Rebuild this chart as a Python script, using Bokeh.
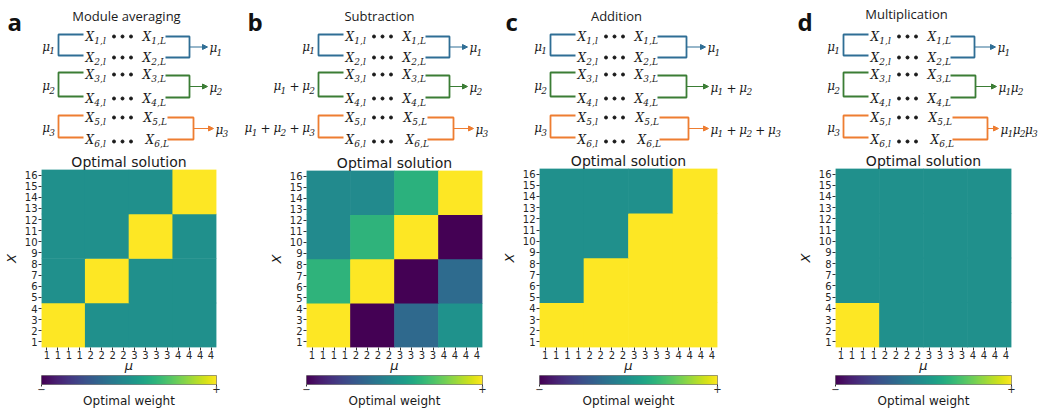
import numpy as np
from bokeh.plotting import figure
from bokeh.layouts import column, row
from bokeh.models import Range1d, FixedTicker, ColumnDataSource, LinearColorMapper, Arrow, NormalHead
from bokeh.palettes import Viridis256
from bokeh.transform import linear_cmap
from bokeh.core.properties import value
from bokeh.embed import file_html
from bokeh.resources import INLINE

# ---------------- data ----------------
panel_letters = ["a", "b", "c", "d"]
panel_titles = ["Module averaging", "Subtraction", "Addition", "Multiplication"]
heatmap_title = "Optimal solution"
colorbar_label = "Optimal weight"
colorbar_ticks = [-1, 1]
colorbar_tick_labels = ["\u2212", "+"]
weight_min, weight_max = -1, 1

# block weights: rows = X blocks (X1-4, X5-8, X9-12, X13-16), cols = mu groups 1..4
weights_a = [[1, 0, 0, 0], [0, 1, 0, 0], [0, 0, 1, 0], [0, 0, 0, 1]]
weights_b = [[1, -1, -0.32, 0.02], [0.3, 1, -1, -0.3], [-0.04, 0.3, 1, -1], [-0.04, -0.04, 0.28, 1]]
weights_c = [[1, 1, 1, 1], [0, 1, 1, 1], [0, 0, 1, 1], [0, 0, 0, 1]]
weights_d = [[1, 0, 0, 0], [0, 0, 0, 0], [0, 0, 0, 0], [0, 0, 0, 0]]
all_weights = [weights_a, weights_b, weights_c, weights_d]

x_tick_labels = ["1"] * 4 + ["2"] * 4 + ["3"] * 4 + ["4"] * 4
y_tick_values = list(range(1, 17))
x_axis_label = "\u03bc"
y_axis_label = "X"

left_inputs = [
    [["μ1"], ["μ2"], ["μ3"]],
    [["μ1"], ["μ1", "+", "μ2"], ["μ1", "+", "μ2", "+", "μ3"]],
    [["μ1"], ["μ2"], ["μ3"]],
    [["μ1"], ["μ2"], ["μ3"]],
]
right_outputs = [
    [["μ1"], ["μ2"], ["μ3"]],
    [["μ1"], ["μ2"], ["μ3"]],
    [["μ1"], ["μ1", "+", "μ2"], ["μ1", "+", "μ2", "+", "μ3"]],
    [["μ1"], ["μ1", "μ2"], ["μ1", "μ2", "μ3"]],
]
x_units = ["1", "2", "3", "4", "5", "6"]

# ---------------- styles / positions ----------------
MOD_COLORS = ["#2f6e95", "#3b7d35", "#ee7d31"]
TXT = "#1a1a1a"
DX = [0, 260, 492, 785]
LT = [34, 72, 115]
LBt = [55, 96, 137]
RT = [36, 75, 117]
RBt = [57, 97, 139]
RV = [[189, 189, 193], [189, 189, 193], [194, 194, 196], [189, 190, 202]]
TIP = [[207, 207, 213], [207, 207, 213], [213, 216, 216], [210, 211, 213]]
XR_START = [142, 142, 142, 142, 143, 145]
LET_X = [7, 247, 505, 797]
TITLE_X = [126, 379, 616, 906]
TITLE_Y = [15, 15, 15, 13]
MU_W, SUB_W, PLUS_W, X_W, JUX_W = 7.6, 5.7, 15.5, 8.8, 4.6

diag = figure(width=1038, height=150, x_range=Range1d(0, 1038), y_range=Range1d(150, 0),
              toolbar_location=None, output_backend="svg", min_border=0,
              x_axis_type=None, y_axis_type=None)
diag.outline_line_color = None
diag.background_fill_color = "white"

main_t = dict(x=[], y=[], text=[])
sub_t = dict(x=[], y=[], text=[])
plus_t = dict(x=[], y=[], text=[])


def add_math(tokens, x, y, anchor="left"):
    widths = []
    for n, t in enumerate(tokens):
        if t == "+":
            widths.append(PLUS_W)
        elif n + 1 < len(tokens) and tokens[n + 1] != "+":
            widths.append(MU_W + JUX_W)
        else:
            widths.append(MU_W + SUB_W)
    cx = x - sum(widths) if anchor == "right" else x
    for t, w in zip(tokens, widths):
        if t == "+":
            plus_t["x"].append(cx + w / 2); plus_t["y"].append(y); plus_t["text"].append("+")
        else:
            main_t["x"].append(cx); main_t["y"].append(y); main_t["text"].append(t[0])
            sub_t["x"].append(cx + MU_W - 0.5); sub_t["y"].append(y + 4); sub_t["text"].append(t[1:])
        cx += w


line_xs, line_ys, line_cols = [], [], []
dots_x, dots_y = [], []
for k in range(4):
    dx = DX[k]
    for r in range(3):
        c = MOD_COLORS[r]
        # left bracket
        line_xs.append([83 + dx, 58 + dx, 58 + dx, 83 + dx])
        line_ys.append([LT[r], LT[r], LBt[r], LBt[r]])
        line_cols.append(c)
        # right bracket
        xs0 = 165 + dx + (2 if r == 2 else 0)
        line_xs.append([xs0, RV[k][r] + dx, RV[k][r] + dx, xs0])
        line_ys.append([RT[r], RT[r], RBt[r], RBt[r]])
        line_cols.append(c)
        ym = (RT[r] + RBt[r]) / 2
        diag.add_layout(Arrow(end=NormalHead(size=5, line_color=c, fill_color=c, line_width=1),
                              x_start=RV[k][r] + dx, y_start=ym, x_end=TIP[k][r] + dx, y_end=ym,
                              line_color=c, line_width=1.2))
        add_math(left_inputs[k][r], 55 + dx, (LT[r] + LBt[r]) / 2 + 1.5, "right")
        add_math(right_outputs[k][r], TIP[k][r] + dx + 2, ym + 1, "left")
        for q, yl in enumerate([LT[r], LBt[r]]):
            idx = 2 * r + q
            unit = x_units[idx]
            main_t["x"].append(85 + dx); main_t["y"].append(yl + 2); main_t["text"].append("X")
            sub_t["x"].append(85 + dx + X_W); sub_t["y"].append(yl + 6); sub_t["text"].append(unit + ",l")
            xr = XR_START[idx] + dx
            main_t["x"].append(xr); main_t["y"].append(yl + 2); main_t["text"].append("X")
            sub_t["x"].append(xr + X_W); sub_t["y"].append(yl + 6); sub_t["text"].append(unit + ",L")
            for ddx in (113.5, 122, 130.5):
                dots_x.append(ddx + dx); dots_y.append(yl + (4 if idx == 5 else 2))

diag.multi_line(xs=line_xs, ys=line_ys, line_color=line_cols, line_width=1.8)
diag.scatter(x=dots_x, y=dots_y, size=3, color="#1a1a1a")
diag.text(x="x", y="y", text="text", source=ColumnDataSource(main_t), text_font=value("DejaVu Serif"),
          text_font_style="italic", text_font_size="12px", text_align="left", text_baseline="middle",
          text_color=TXT)
diag.text(x="x", y="y", text="text", source=ColumnDataSource(sub_t), text_font=value("DejaVu Serif"),
          text_font_style="italic", text_font_size="9px", text_align="left", text_baseline="middle",
          text_color=TXT)
diag.text(x="x", y="y", text="text", source=ColumnDataSource(plus_t), text_font=value("DejaVu Serif"),
          text_font_size="12px", text_align="center", text_baseline="middle", text_color=TXT)
diag.text(x=TITLE_X, y=TITLE_Y, text=panel_titles, text_font=value("Open Sans"), text_font_size="13px",
          text_align="center", text_baseline="middle", text_color=TXT)
diag.text(x=LET_X, y=[21] * 4, text=panel_letters, text_font=value("Open Sans"), text_font_style="bold",
          text_font_size="24px", text_align="left", text_baseline="alphabetic", text_color="#111111")

# ---------------- heatmaps ----------------
W = [265, 233, 296, 244]
LBD = [37, 39, 37, 35]
RBD = [49, 16, 77, 27]
TBD = [19, 20, 16, 16]
FH = [179, 178, 182, 182]
HM_BOTTOM = 27
CB_H = 38

cols = []
for k in range(4):
    wts = all_weights[k]
    src = dict(x=[], y=[], w=[])
    for i in range(4):
        for j in range(4):
            src["x"].append(4 * j + 1.5)
            src["y"].append(4 * i + 2.5)
            src["w"].append(wts[i][j])
    p = figure(width=W[k], height=TBD[k] + FH[k] + HM_BOTTOM, x_range=Range1d(-0.5, 15.5),
               y_range=Range1d(0.5, 16.5), toolbar_location=None, output_backend="svg",
               min_border_left=LBD[k], min_border_right=RBD[k], min_border_top=TBD[k],
               min_border_bottom=HM_BOTTOM, title=heatmap_title)
    cmap = linear_cmap("w", Viridis256, weight_min, weight_max)
    p.rect(x="x", y="y", width=4.06, height=4.06, source=ColumnDataSource(src), fill_color=cmap,
           line_color=None)
    p.grid.visible = False
    p.outline_line_color = None
    p.title.align = "center"
    p.title.text_font = "DejaVu Sans"
    p.title.text_font_size = "14px"
    p.title.text_font_style = "normal"
    p.title.text_color = TXT
    p.title.standoff = 0
    for ax in (p.xaxis, p.yaxis):
        ax.axis_line_color = None
        ax.major_tick_line_color = "#333333"
        ax.major_tick_in = 0
        ax.major_tick_out = 3
        ax.minor_tick_line_color = None
        ax.major_label_text_font = "DejaVu Sans"
        ax.major_label_text_font_size = "10px"
        ax.major_label_text_color = "#262626"
        ax.axis_label_text_font = "DejaVu Sans"
        ax.axis_label_text_font_size = "13px"
        ax.axis_label_text_font_style = "italic"
        ax.axis_label_text_color = TXT
    p.xaxis.ticker = FixedTicker(ticks=list(range(16)))
    p.xaxis.major_label_overrides = {i: lab for i, lab in enumerate(x_tick_labels)}
    p.xaxis.major_label_standoff = 0
    p.xaxis.axis_label = x_axis_label
    p.xaxis.axis_label_standoff = -4
    p.yaxis.ticker = FixedTicker(ticks=y_tick_values)
    p.yaxis.major_label_standoff = 1
    p.yaxis.axis_label = y_axis_label
    p.yaxis.axis_label_standoff = 3

    cb = figure(width=W[k], height=CB_H, x_range=Range1d(weight_min, weight_max), y_range=Range1d(0, 1),
                toolbar_location=None, output_backend="svg", min_border_left=LBD[k] - 1,
                min_border_right=RBD[k], min_border_top=0, min_border_bottom=CB_H - 9,
                y_axis_location=None)
    grad = np.linspace(weight_min, weight_max, 256)[None, :]
    cb.image(image=[grad], x=weight_min, y=0, dw=weight_max - weight_min, dh=1,
             color_mapper=LinearColorMapper(palette=Viridis256, low=weight_min, high=weight_max))
    cb.grid.visible = False
    cb.outline_line_color = "#7f7f7f"
    cb.outline_line_width = 1
    ax = cb.xaxis
    ax.ticker = FixedTicker(ticks=colorbar_ticks)
    ax.major_label_overrides = {t: lab for t, lab in zip(colorbar_ticks, colorbar_tick_labels)}
    ax.axis_line_color = None
    ax.major_tick_line_color = "#333333"
    ax.major_tick_in = 0
    ax.major_tick_out = 2
    ax.minor_tick_line_color = None
    ax.major_label_standoff = -2
    ax.major_label_text_font = "DejaVu Sans"
    ax.major_label_text_font_size = "10px"
    ax.major_label_text_color = "#262626"
    ax.axis_label = colorbar_label
    ax.axis_label_standoff = -2
    ax.axis_label_text_font = "DejaVu Sans"
    ax.axis_label_text_font_size = "12px"
    ax.axis_label_text_font_style = "normal"
    ax.axis_label_text_color = TXT
    cols.append(column(p, cb))

layout = column(diag, row(*cols))
open("out.html", "w").write(file_html(layout, INLINE))
